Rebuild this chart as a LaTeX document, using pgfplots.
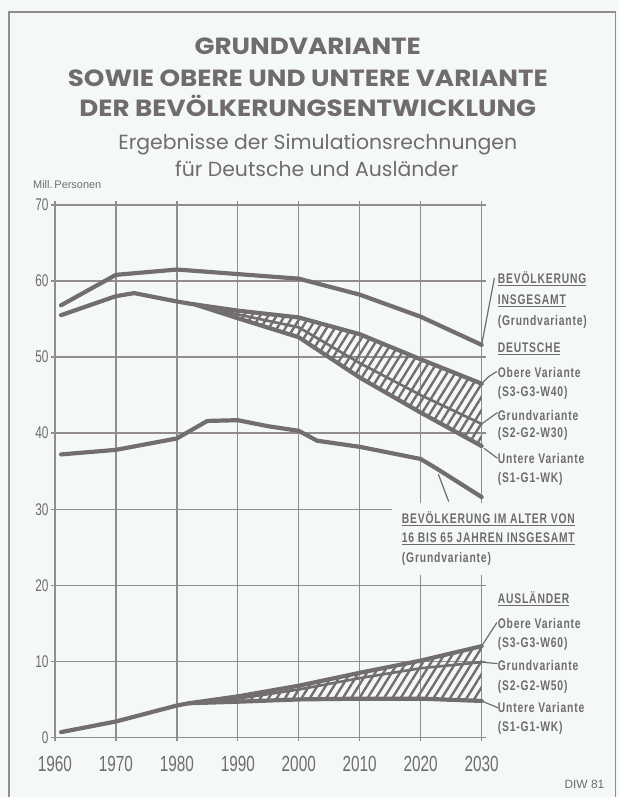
\documentclass[border=0pt]{standalone}
\usepackage{fontspec}
\setmainfont{Liberation Sans}
\newfontfamily\titlefont[FakeStretch=1.12]{Poppins}
\newfontfamily\subfont{Poppins}
\newfontfamily\condfont[FakeStretch=0.74,LetterSpace=6]{Liberation Sans}
\newfontfamily\tickfont[FakeStretch=0.7]{Liberation Sans}
\usepackage{pgfplots}
\pgfplotsset{compat=1.18}
\usetikzlibrary{patterns.meta}
\definecolor{bgcol}{RGB}{245,248,249}
\definecolor{linecol}{RGB}{114,110,110}
\definecolor{gridcol}{RGB}{145,141,141}
\definecolor{textcol}{RGB}{112,108,108}

\newcommand\lab[1]{{\condfont\bfseries\fontsize{14}{14}\selectfont #1}}
\newcommand\ulab[1]{{\condfont\bfseries\fontsize{14}{14}\selectfont\underline{#1}}}

\begin{document}
\begin{tikzpicture}[x=1bp,y=-1bp]
\fill[bgcol] (0,0) rectangle (619,798);
\draw[gridcol, line width=1.2bp] (9,798) -- (9,12) -- (616,12) -- (616,798);

% titles
\node[textcol, font=\titlefont\bfseries\fontsize{23.5}{23.5}\selectfont] at (308,46) {GRUNDVARIANTE};
\node[textcol, font=\titlefont\bfseries\fontsize{23.5}{23.5}\selectfont] at (308,78) {SOWIE OBERE UND UNTERE VARIANTE};
\node[textcol, font=\titlefont\bfseries\fontsize{23.5}{23.5}\selectfont] at (308,106) {DER BEVÖLKERUNGSENTWICKLUNG};
\node[textcol, font=\subfont\fontsize{20.5}{20.5}\selectfont] at (318,145) {Ergebnisse der Simulationsrechnungen};
\node[textcol, font=\subfont\fontsize{20.5}{20.5}\selectfont] at (317,169) {für Deutsche und Ausländer};
\node[textcol, font=\fontsize{11}{11}\selectfont, anchor=west, inner sep=0] at (33,185) {Mill.\,Personen};

\begin{axis}[
    at={(55bp,-738bp)}, anchor=south west,
    width=427bp, height=533bp, scale only axis,
    xmin=1960, xmax=2030, ymin=0, ymax=70,
    xtick={1960,1970,...,2030}, ytick={0,10,...,70},
    grid=major, grid style={line width=1.3bp, gridcol},
    axis line style={line width=1.4bp, gridcol},
    tick style={line width=1.3bp, gridcol},
    tick align=outside, major tick length=4bp,
    /pgf/number format/1000 sep={},
    /pgf/number format/assume math mode=true,
    x tick label style={font=\tickfont\fontsize{22}{22}\selectfont, text=textcol, yshift=-11bp},
    y tick label style={font=\tickfont\fontsize{17}{17}\selectfont, text=textcol, xshift=1bp},
    clip=false,
    every axis plot/.append style={line join=round, line cap=round},
]
% Bevoelkerung insgesamt
\addplot[linecol, line width=4.2bp] coordinates {
 (1961,56.8)(1970,60.8)(1980,61.5)(1990,60.9)(2000,60.3)(2010,58.2)(2020,55.3)(2030,51.6)};
% Deutsche: band between obere and untere Variante
\addplot[pattern={Lines[angle=58,distance=7bp,line width=2.4bp]}, pattern color=linecol, draw=none] coordinates {
 (1983,56.9)(1990,56.1)(2000,55.2)(2010,53.0)(2020,49.7)(2030,46.5)
 (2030,38.3)(2020,42.7)(2010,47.3)(2000,52.6)(1990,55.1)(1983,56.9)};
\addplot[linecol, line width=4.2bp] coordinates {
 (1961,55.5)(1970,58.0)(1973,58.4)(1980,57.3)(1983,56.9)(1990,56.1)(2000,55.2)(2010,53.0)(2020,49.7)(2030,46.5)};
\addplot[linecol, line width=2.6bp] coordinates {
 (1983,56.9)(1990,55.6)(2000,53.9)(2010,49.2)(2020,45.0)(2030,41.2)};
\addplot[linecol, line width=4.2bp] coordinates {
 (1983,56.9)(1990,55.1)(2000,52.6)(2010,47.3)(2020,42.7)(2030,38.3)};
% 16 bis 65 Jahre
\addplot[linecol, line width=4.2bp] coordinates {
 (1961,37.2)(1970,37.8)(1980,39.3)(1985,41.6)(1990,41.7)(1995,40.9)(2000,40.3)
 (2003,39.0)(2010,38.2)(2020,36.6)(2022.5,35.4)(2030,31.6)};
% Auslaender: band
\addplot[pattern={Lines[angle=58,distance=7bp,line width=2.4bp]}, pattern color=linecol, draw=none] coordinates {
 (1982,4.5)(1990,5.4)(2000,6.8)(2010,8.5)(2020,10.1)(2030,12.0)
 (2030,4.8)(2020,5.1)(2010,5.1)(2000,5.0)(1990,4.7)(1982,4.5)};
\addplot[linecol, line width=4.2bp] coordinates {
 (1961,0.7)(1970,2.1)(1980,4.2)(1982,4.5)(1990,5.4)(2000,6.8)(2010,8.5)(2020,10.1)(2030,12.0)};
\addplot[linecol, line width=2.6bp] coordinates {
 (1982,4.5)(1990,5.1)(2000,6.3)(2010,7.8)(2020,9.1)(2030,9.9)};
\addplot[linecol, line width=4.2bp] coordinates {
 (1982,4.5)(1990,4.7)(2000,5.0)(2010,5.1)(2020,5.1)(2030,4.8)};
% leader lines
\begin{scope}[linecol, line width=1.2bp]
\draw (axis cs:2030,51.6) -- (axis cs:2032.1,60.4);
\draw (axis cs:2030,46.5) -- (axis cs:2031.1,47.4) -- (axis cs:2032.5,48.1);
\draw (axis cs:2030,41.2) -- (axis cs:2032.6,42.7);
\draw (axis cs:2030.4,38.0) -- (axis cs:2032.6,36.7);
\draw (axis cs:2022.9,34.6) -- (axis cs:2024.6,31.0);
\draw (axis cs:2030,12.0) -- (axis cs:2032.5,15.1);
\draw (axis cs:2030,9.9) -- (axis cs:2032.6,9.7);
\draw (axis cs:2030,4.8) -- (axis cs:2032.7,3.9);
\end{scope}
\end{axis}

% label box for 16-65
\fill[bgcol] (392,503) rectangle (604,575);

\begin{scope}[textcol]
\node[anchor=west, inner sep=0] at (498,279) {\ulab{BEVÖLKERUNG}};
\node[anchor=west, inner sep=0] at (498,301) {\ulab{INSGESAMT}};
\node[anchor=west, inner sep=0] at (498,322) {\lab{(Grundvariante)}};
\node[anchor=west, inner sep=0] at (498,349) {\ulab{DEUTSCHE}};
\node[anchor=west, inner sep=0] at (498,373) {\lab{Obere Variante}};
\node[anchor=west, inner sep=0] at (498,393) {\lab{(S3-G3-W40)}};
\node[anchor=west, inner sep=0] at (498,416) {\lab{Grundvariante}};
\node[anchor=west, inner sep=0] at (498,434) {\lab{(S2-G2-W30)}};
\node[anchor=west, inner sep=0] at (498,459) {\lab{Untere Variante}};
\node[anchor=west, inner sep=0] at (498,479) {\lab{(S1-G1-WK)}};

\node[anchor=west, inner sep=0] at (402,519) {\ulab{BEVÖLKERUNG IM ALTER VON}};
\node[anchor=west, inner sep=0] at (402,539) {\ulab{16 BIS 65 JAHREN INSGESAMT}};
\node[anchor=west, inner sep=0] at (402,559) {\lab{(Grundvariante)}};

\node[anchor=west, inner sep=0] at (498,599) {\ulab{AUSLÄNDER}};
\node[anchor=west, inner sep=0] at (498,624) {\lab{Obere Variante}};
\node[anchor=west, inner sep=0] at (498,644) {\lab{(S3-G3-W60)}};
\node[anchor=west, inner sep=0] at (498,666) {\lab{Grundvariante}};
\node[anchor=west, inner sep=0] at (498,687) {\lab{(S2-G2-W50)}};
\node[anchor=west, inner sep=0] at (498,708) {\lab{Untere Variante}};
\node[anchor=west, inner sep=0] at (498,728) {\lab{(S1-G1-WK)}};

\node[anchor=east, inner sep=0, font=\fontsize{12}{12}\selectfont] at (605,785) {DIW 81};
\end{scope}
\end{tikzpicture}
\end{document}
